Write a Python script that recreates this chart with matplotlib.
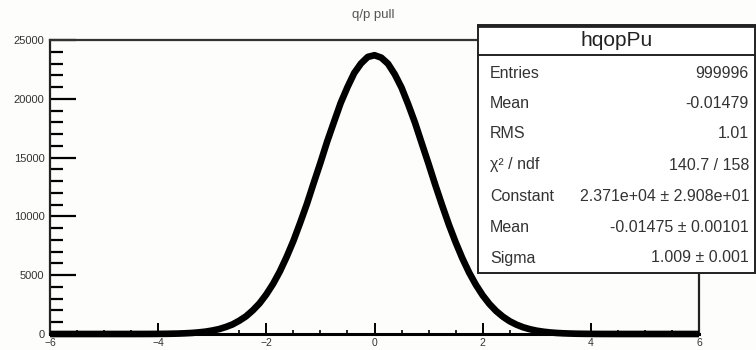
import numpy as np
import matplotlib
matplotlib.use('Agg')
import matplotlib.pyplot as plt
from matplotlib.patches import Rectangle
from matplotlib.ticker import MultipleLocator

plt.rcParams['font.family'] = ['Liberation Sans', 'DejaVu Sans']

# q/p pull distribution (step 0.125 in the core)
pull_x = np.concatenate([[-6.0], np.arange(-4.5, 4.501, 0.125), [6.0]])
pull_counts = [0,
               1, 2, 3, 5, 10, 15, 25, 38, 60, 90, 138, 200, 295, 415, 595, 815,
               1130, 1505, 2010, 2610, 3370, 4265, 5320, 6550, 7910, 9450,
               11060, 12830, 14560, 16370, 18020, 19650, 20990, 22190, 23000,
               23560,
               23705,
               23500, 22980, 22080, 20950, 19510, 17950, 16200, 14460, 12660,
               10950, 9300, 7800, 6430, 5220, 4180, 3290, 2550, 1950, 1470,
               1085, 795, 570, 405, 280, 194, 130, 87, 57, 37, 23, 15, 9, 5, 3,
               2, 1,
               0]

hist_name = 'hqopPu'
stat_labels = ['Entries', 'Mean', 'RMS', 'χ² / ndf', 'Constant', 'Mean', 'Sigma']
stat_values = ['999996', '-0.01479', '1.01', '140.7 / 158',
               '2.371e+04 ± 2.908e+01', '-0.01475 ± 0.00101', '1.009 ± 0.001']

W, H = 756, 350
fig = plt.figure(figsize=(W / 100, H / 100), dpi=100)
fig.patch.set_facecolor('#fdfdfb')

# axes frame in pixel coords
x0, x1, ytop, ybot = 50, 699, 40, 334
ax = fig.add_axes([x0 / W, 1 - ybot / H, (x1 - x0) / W, (ybot - ytop) / H])
ax.set_facecolor('#fdfdfb')
ax.plot(pull_x, pull_counts, color='black', lw=4.8, solid_capstyle='butt',
        solid_joinstyle='round', zorder=3, clip_on=False)

ax.set_xlim(-6, 6)
ax.set_ylim(0, 25000)
ax.xaxis.set_major_locator(MultipleLocator(2))
ax.xaxis.set_minor_locator(MultipleLocator(0.5))
ax.yaxis.set_major_locator(MultipleLocator(5000))
ax.yaxis.set_minor_locator(MultipleLocator(1000))
ax.tick_params(axis='y', which='major', direction='in', length=19, width=1.6, labelsize=8, pad=4)
ax.tick_params(axis='y', which='minor', direction='in', length=9, width=1.6)
ax.tick_params(axis='x', which='major', direction='in', length=8, width=1.4, labelsize=7.5, pad=3)
ax.tick_params(axis='x', which='minor', direction='in', length=3, width=1.2)
for side in ['left', 'right', 'top']:
    ax.spines[side].set_linewidth(1.6)
    ax.spines[side].set_color('#222222')
ax.spines['bottom'].set_linewidth(2.2)
ax.spines['top'].set_color('#333333')
for lbl in ax.get_xticklabels() + ax.get_yticklabels():
    lbl.set_color('#333333')

fig.text(373 / W, 1 - 15 / H, 'q/p pull', ha='center', va='center', fontsize=9.5, color='#555555')

# stat box (figure pixel coords)
bx0, bx1, by0, by1 = 478, 755, 25, 273
box = Rectangle((bx0 / W, 1 - by1 / H), (bx1 - bx0) / W, (by1 - by0) / H,
                transform=fig.transFigure, facecolor='white', edgecolor='#222222',
                lw=1.4, zorder=10)
fig.patches.append(box)
fig.add_artist(plt.Line2D([bx0 / W, bx1 / W], [1 - 55 / H, 1 - 55 / H],
                          transform=fig.transFigure, color='#222222', lw=1.4, zorder=11))
fig.add_artist(plt.Line2D([bx0 / W, bx1 / W], [1 - 26 / H, 1 - 26 / H],
                          transform=fig.transFigure, color='#222222', lw=2.0, zorder=11))
fig.text((bx0 + bx1) / 2 / W, 1 - 40 / H, hist_name, ha='center', va='center',
         fontsize=15, color='#222222', zorder=12)

row_y = [73, 103, 134, 165, 196, 227, 258]
for lab, val, yy in zip(stat_labels, stat_values, row_y):
    fig.text(490 / W, 1 - yy / H, lab, ha='left', va='center', fontsize=11.5,
             color='#333333', zorder=12)
    fig.text(749 / W, 1 - yy / H, val, ha='right', va='center', fontsize=11.5,
             color='#333333', zorder=12)

fig.savefig('out.png', dpi=100, facecolor=fig.get_facecolor())
